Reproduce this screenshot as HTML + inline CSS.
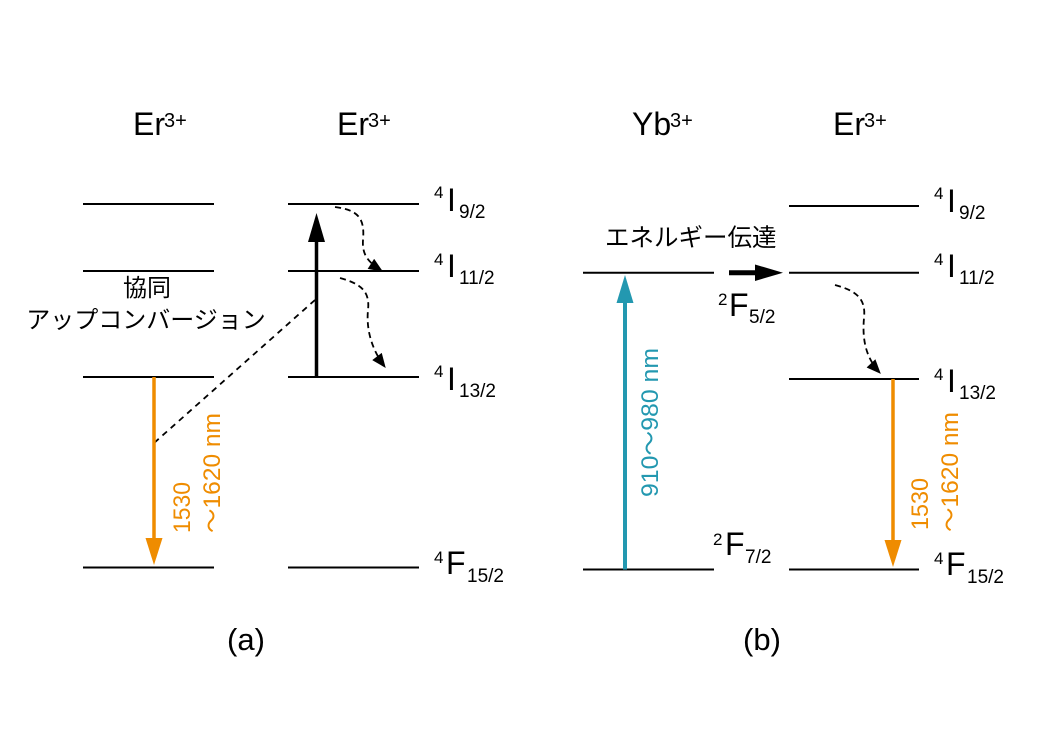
<!DOCTYPE html>
<html><head><meta charset="utf-8"><style>
html,body{margin:0;padding:0;background:#fff;}
svg{display:block;}
text{font-family:"Liberation Sans","Noto Sans CJK JP",sans-serif;fill:#000;}
.jp{font-family:"Liberation Sans","Noto Sans CJK JP",sans-serif;}
</style></head><body>
<svg width="1042" height="730" viewBox="0 0 1042 730" xmlns="http://www.w3.org/2000/svg">
<defs>
<marker id="ah2" viewBox="0 0 12 10" refX="11" refY="5" markerWidth="15" markerHeight="12" markerUnits="userSpaceOnUse" orient="auto">
<path d="M0,0 L12,5 L0,10 z" fill="#000"/>
</marker>
</defs>

<!-- Level lines panel (a) -->
<g stroke="#000" stroke-width="2">
<line x1="83" y1="204" x2="214" y2="204"/>
<line x1="83" y1="271" x2="214" y2="271"/>
<line x1="83" y1="377" x2="214" y2="377"/>
<line x1="83" y1="567.5" x2="214" y2="567.5"/>
<line x1="288" y1="204" x2="419" y2="204"/>
<line x1="288" y1="271" x2="419" y2="271"/>
<line x1="288" y1="377" x2="419" y2="377"/>
<line x1="288" y1="567.5" x2="419" y2="567.5"/>
<!-- panel (b) -->
<line x1="583" y1="272.7" x2="714" y2="272.7"/>
<line x1="583" y1="569.5" x2="714" y2="569.5"/>
<line x1="789" y1="206" x2="919" y2="206"/>
<line x1="789" y1="272.7" x2="919" y2="272.7"/>
<line x1="789" y1="379" x2="919" y2="379"/>
<line x1="789" y1="569.5" x2="919" y2="569.5"/>
</g>

<!-- Black vertical arrow (a) -->
<line x1="316.5" y1="377" x2="316.5" y2="238" stroke="#000" stroke-width="3.5"/>
<polygon points="308,242 325,242 316.5,213" fill="#000"/>

<!-- Dashed straight line -->
<line x1="315" y1="300" x2="154" y2="443" stroke="#000" stroke-width="1.8" stroke-dasharray="6,5"/>

<!-- Orange arrow (a) -->
<line x1="154" y1="377" x2="154" y2="542" stroke="#ef8c00" stroke-width="3.5"/>
<polygon points="145.5,538 162.5,538 154,565" fill="#ef8c00"/>

<!-- Curved dashed arrows (a) -->
<path d="M335,207 C358,210 365,218 363,240 C362,255 368,262 382,271" fill="none" stroke="#000" stroke-width="1.8" stroke-dasharray="6,4" marker-end="url(#ah2)"/>
<path d="M340,278 C362,284 370,292 368,310 C366,330 372,350 385,367" fill="none" stroke="#000" stroke-width="1.8" stroke-dasharray="6,4" marker-end="url(#ah2)"/>

<!-- Teal arrow (b) -->
<line x1="625" y1="569.5" x2="625" y2="300" stroke="#2398b0" stroke-width="4"/>
<polygon points="616.5,303 633.5,303 625,275" fill="#2398b0"/>

<!-- Horizontal black arrow -->
<line x1="729" y1="272.7" x2="758" y2="272.7" stroke="#000" stroke-width="5"/>
<polygon points="755,264.5 755,281 783,272.7" fill="#000"/>

<!-- Curved dashed (b) -->
<path d="M835,285 C858,291 866,300 864,318 C862,340 866,358 880,373" fill="none" stroke="#000" stroke-width="1.8" stroke-dasharray="6,4" marker-end="url(#ah2)"/>

<!-- Orange arrow (b) -->
<line x1="893" y1="379" x2="893" y2="544" stroke="#ef8c00" stroke-width="3.5"/>
<polygon points="884.5,540 901.5,540 893,567" fill="#ef8c00"/>

<!-- Titles -->
<text x="133" y="135" font-size="32">Er</text><text x="164" y="127" font-size="20">3+</text>
<text x="337" y="135" font-size="32">Er</text><text x="368" y="127" font-size="20">3+</text>
<text x="632" y="135" font-size="32">Yb</text><text x="670" y="127" font-size="20">3+</text>
<text x="833" y="135" font-size="32">Er</text><text x="864" y="127" font-size="20">3+</text>

<!-- Level labels (a) -->
<text x="434" y="198" font-size="17">4</text><text x="447" y="211" font-size="32">I</text><text x="459" y="218" font-size="19">9/2</text>
<text x="434" y="265" font-size="17">4</text><text x="447" y="277" font-size="32">I</text><text x="459" y="284" font-size="19">11/2</text>
<text x="434" y="377" font-size="17">4</text><text x="447" y="390" font-size="32">I</text><text x="459" y="397" font-size="19">13/2</text>
<text x="434" y="563" font-size="17">4</text><text x="446" y="574" font-size="32">F</text><text x="467" y="582" font-size="19">15/2</text>

<!-- Level labels (b) -->
<text x="934" y="199" font-size="17">4</text><text x="947" y="212" font-size="32">I</text><text x="959" y="219" font-size="19">9/2</text>
<text x="934" y="265" font-size="17">4</text><text x="947" y="277" font-size="32">I</text><text x="959" y="284" font-size="19">11/2</text>
<text x="934" y="380" font-size="17">4</text><text x="947" y="392" font-size="32">I</text><text x="959" y="399" font-size="19">13/2</text>
<text x="934" y="564" font-size="17">4</text><text x="946" y="575" font-size="32">F</text><text x="967" y="583" font-size="19">15/2</text>

<text x="718" y="305" font-size="17">2</text><text x="729" y="316" font-size="32">F</text><text x="749" y="323" font-size="19">5/2</text>
<text x="713" y="545" font-size="17">2</text><text x="725" y="555" font-size="32">F</text><text x="745" y="563" font-size="19">7/2</text>

<!-- Japanese labels -->
<text class="jp" x="147" y="296" font-size="24" text-anchor="middle">協同</text>
<text class="jp" x="146" y="328" font-size="24" text-anchor="middle">アップコンバージョン</text>
<text class="jp" x="605" y="246" font-size="24.5">エネルギー伝達</text>

<!-- Rotated wavelength labels -->
<text transform="translate(190,533) rotate(-90)" font-size="24" style="fill:#ef8c00" textLength="51" lengthAdjust="spacingAndGlyphs">1530</text>
<text transform="translate(220,533) rotate(-90)" font-size="24" style="fill:#ef8c00" textLength="120" lengthAdjust="spacingAndGlyphs">～1620 nm</text>
<text transform="translate(928,530) rotate(-90)" font-size="24" style="fill:#ef8c00" textLength="52" lengthAdjust="spacingAndGlyphs">1530</text>
<text transform="translate(958,532) rotate(-90)" font-size="24" style="fill:#ef8c00" textLength="120" lengthAdjust="spacingAndGlyphs">～1620 nm</text>
<text transform="translate(658,497) rotate(-90)" font-size="24" style="fill:#2398b0" textLength="149" lengthAdjust="spacingAndGlyphs">910～980 nm</text>

<!-- Panel captions -->
<text x="246" y="650" font-size="31" text-anchor="middle">(a)</text>
<text x="762" y="650" font-size="31" text-anchor="middle">(b)</text>
</svg>
</body></html>
